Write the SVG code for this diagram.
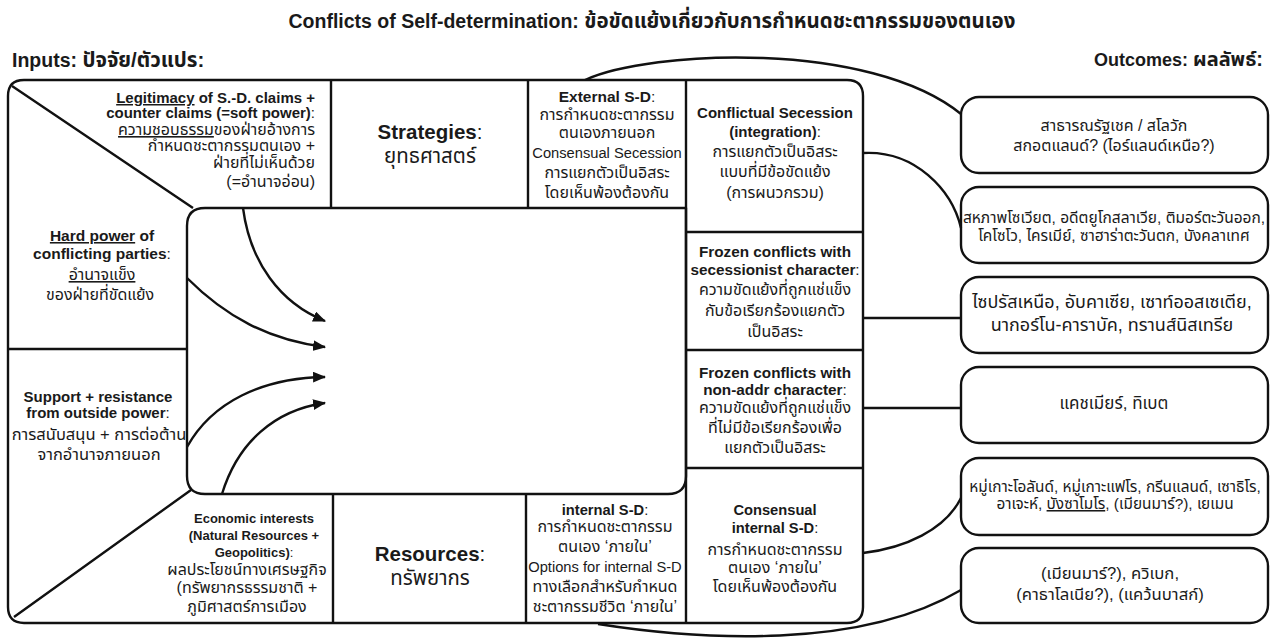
<svg xmlns="http://www.w3.org/2000/svg" width="1272" height="641" viewBox="0 0 1272 641">
<defs>
<style>
text { font-family: "Liberation Sans", "Noto Sans Thai", "Noto Sans Thai UI", Garuda, Loma, "DejaVu Sans", sans-serif; font-size: 16px; fill: #1a1a1a; }
.b { font-weight: bold; }
.c { text-anchor: middle; }
.e { text-anchor: end; }
.en { font-size: 15px; }
.sm { font-size: 13px; }
.big { font-size: 20.5px; }
.hd { font-weight: bold; }
.u { text-decoration: underline; }
.ln { fill: none; stroke: #111; stroke-width: 2.4; stroke-linejoin: round; }
.box { fill: #fff; stroke: #111; stroke-width: 2.4; }
</style>
<marker id="ah" viewBox="0 0 12 10" refX="11" refY="5" markerWidth="13" markerHeight="11" orient="auto" markerUnits="userSpaceOnUse">
<path d="M0,0 L12,5 L0,10 Z" fill="#111"/>
</marker>
</defs>
<rect width="1272" height="641" fill="#fff"/>

<g id="headers">
<text class="hd c" x="652" y="28"><tspan style="font-size:19.5px">Conflicts of Self-determination: </tspan><tspan style="font-size:20.5px">ข้อขัดแย้งเกี่ยวกับการกำหนดชะตากรรมของตนเอง</tspan></text>
<text class="hd" x="12" y="67"><tspan style="font-size:19.5px">Inputs: </tspan><tspan style="font-size:20.5px">ปัจจัย/ตัวแปร:</tspan></text>
<text class="hd e" x="1263" y="66"><tspan style="font-size:18px">Outcomes: </tspan><tspan style="font-size:20px">ผลลัพธ์:</tspan></text>
</g>

<g id="frame">
<path class="ln" d="M24,80 H847 Q863,80 863,96 V607 Q863,623 847,623 H24 Q8,623 8,607 V96 Q8,80 24,80 Z"/>
<path class="ln" d="M205,208 H686 V476 Q686,494 668,494 H205 Q187,494 187,476 V226 Q187,208 205,208 Z"/>
<path class="ln" d="M12,86 L193,208 M14,617 L191,490 M331,80 V208 M528,80 V208 M686,80 V623 M8,349 H187 M333,494 V623 M526,494 V623 M686,232 H863 M686,350 H863 M686,468 H863"/>
</g>

<g id="legitimacy">
<text class="e en" x="315" y="103"><tspan class="b"><tspan class="u">Legitimacy</tspan> of S.-D. claims +</tspan></text>
<text class="e en" x="315" y="118"><tspan class="b">counter claims (=soft power)</tspan>:</text>
<text class="e" x="315" y="135"><tspan class="u">ความชอบธรรม</tspan>ของฝ่ายอ้างการ</text>
<text class="e" x="315" y="151">กำหนดชะตากรรมตนเอง +</text>
<text class="e" x="315" y="168">ฝ่ายที่ไม่เห็นด้วย</text>
<text class="e" x="315" y="187">(=อำนาจอ่อน)</text>
</g>

<g id="strategies">
<text class="c big" x="430" y="139"><tspan class="b">Strategies</tspan>:</text>
<text class="c big" x="430" y="163">ยุทธศาสตร์</text>
</g>

<g id="external">
<text class="c" x="607" y="102" style="font-size:15.5px"><tspan class="b">External S-D</tspan>:</text>
<text class="c" x="607" y="120">การกำหนดชะตากรรม</text>
<text class="c" x="607" y="138">ตนเองภายนอก</text>
<text class="c" x="607" y="158" style="font-size:14.7px">Consensual Secession</text>
<text class="c" x="607" y="178">การแยกตัวเป็นอิสระ</text>
<text class="c" x="607" y="198">โดยเห็นพ้องต้องกัน</text>
</g>

<g id="conflictual">
<text class="c b en" x="775" y="118">Conflictual Secession</text>
<text class="c en" x="775" y="137"><tspan class="b">(integration)</tspan>:</text>
<text class="c" x="775" y="157">การแยกตัวเป็นอิสระ</text>
<text class="c" x="775" y="177">แบบที่มีข้อขัดแย้ง</text>
<text class="c" x="775" y="198">(การผนวกรวม)</text>
</g>

<g id="frozen-secessionist">
<text class="c b" x="775" y="257" style="font-size:15.3px">Frozen conflicts with</text>
<text class="c" x="775" y="275" style="font-size:15.3px"><tspan class="b">secessionist character</tspan>:</text>
<text class="c" x="775" y="295">ความขัดแย้งที่ถูกแช่แข็ง</text>
<text class="c" x="775" y="316">กับข้อเรียกร้องแยกตัว</text>
<text class="c" x="775" y="337">เป็นอิสระ</text>
</g>

<g id="frozen-nonaddr">
<text class="c b" x="775" y="378" style="font-size:15.3px">Frozen conflicts with</text>
<text class="c" x="775" y="395" style="font-size:15.3px"><tspan class="b">non-addr character</tspan>:</text>
<text class="c" x="775" y="413">ความขัดแย้งที่ถูกแช่แข็ง</text>
<text class="c" x="775" y="433">ที่ไม่มีข้อเรียกร้องเพื่อ</text>
<text class="c" x="775" y="453">แยกตัวเป็นอิสระ</text>
</g>

<g id="hardpower">
<text class="c" x="102" y="241" style="font-size:15.5px"><tspan class="b"><tspan class="u">Hard power</tspan> of</tspan></text>
<text class="c" x="102" y="259" style="font-size:15.5px"><tspan class="b">conflicting parties</tspan>:</text>
<text class="c u" x="102" y="280">อำนาจแข็ง</text>
<text class="c" x="100" y="300">ของฝ่ายที่ขัดแย้ง</text>
</g>

<g id="support">
<text class="c b en" x="98" y="402">Support + resistance</text>
<text class="c en" x="98" y="418"><tspan class="b">from outside power</tspan>:</text>
<text class="c" x="99" y="440" style="font-size:16.5px">การสนับสนุน + การต่อต้าน</text>
<text class="c" x="99" y="460" style="font-size:16.5px">จากอำนาจภายนอก</text>
</g>

<g id="economic">
<text class="c b sm" x="254" y="523">Economic interests</text>
<text class="c b sm" x="254" y="540">(Natural Resources +</text>
<text class="c sm" x="254" y="557"><tspan class="b">Geopolitics)</tspan>:</text>
<text class="c" x="247" y="575">ผลประโยชน์ทางเศรษฐกิจ</text>
<text class="c" x="247" y="593">(ทรัพยากรธรรมชาติ +</text>
<text class="c" x="247" y="612">ภูมิศาสตร์การเมือง</text>
</g>

<g id="resources">
<text class="c big" x="430" y="561"><tspan class="b">Resources</tspan>:</text>
<text class="c big" x="430" y="585">ทรัพยากร</text>
</g>

<g id="internal">
<text class="c" x="605" y="515" style="font-size:14.7px"><tspan class="b">internal S-D</tspan>:</text>
<text class="c" x="605" y="532">การกำหนดชะตากรรม</text>
<text class="c" x="605" y="552">ตนเอง ‘ภายใน’</text>
<text class="c" x="605" y="572" style="font-size:14.7px">Options for internal S-D</text>
<text class="c" x="605" y="592">ทางเลือกสำหรับกำหนด</text>
<text class="c" x="605" y="612">ชะตากรรมชีวิต ‘ภายใน’</text>
</g>

<g id="consensual-internal">
<text class="c b" x="775" y="515" style="font-size:14.7px">Consensual</text>
<text class="c" x="775" y="533" style="font-size:14.7px"><tspan class="b">internal S-D</tspan>:</text>
<text class="c" x="775" y="555">การกำหนดชะตากรรม</text>
<text class="c" x="775" y="573">ตนเอง ‘ภายใน’</text>
<text class="c" x="775" y="592">โดยเห็นพ้องต้องกัน</text>
</g>

<g id="outcome-1">
<rect class="box" x="961" y="97" width="307" height="76" rx="18"/>
<text class="c" x="1114" y="131">สาธารณรัฐเชค / สโลวัก</text>
<text class="c" x="1114" y="151">สกอตแลนด์? (ไอร์แลนด์เหนือ?)</text>
</g>
<g id="outcome-2">
<rect class="box" x="961" y="187" width="307" height="76" rx="18"/>
<text class="c" x="1114" y="223" style="font-size:15.5px">สหภาพโซเวียต, อดีตยูโกสลาเวีย, ติมอร์ตะวันออก,</text>
<text class="c" x="1114" y="241" style="font-size:15.5px">โคโซโว, ไครเมีย์, ซาฮาร่าตะวันตก, บังคลาเทศ</text>
</g>
<g id="outcome-3">
<rect class="box" x="961" y="277" width="307" height="76" rx="18"/>
<text class="c" x="1112" y="308" style="font-size:18px">ไซปรัสเหนือ, อับคาเซีย, เซาท์ออสเซเตีย,</text>
<text class="c" x="1112" y="331" style="font-size:18px">นากอร์โน-คาราบัค, ทรานส์นิสเทรีย</text>
</g>
<g id="outcome-4">
<rect class="box" x="961" y="367" width="307" height="76" rx="18"/>
<text class="c" x="1114" y="409" style="font-size:17px">แคชเมียร์, ทิเบต</text>
</g>
<g id="outcome-5">
<rect class="box" x="961" y="458" width="307" height="77" rx="18"/>
<text class="c" x="1115" y="492" style="font-size:15.4px">หมู่เกาะโอลันด์, หมู่เกาะแฟโร, กรีนแลนด์, เซาธิโร,</text>
<text class="c" x="1115" y="509" style="font-size:15.4px">อาเจะห์, <tspan class="u">บังซาโมโร</tspan>, (เมียนมาร์?), เยเมน</text>
</g>
<g id="outcome-6">
<rect class="box" x="961" y="548" width="307" height="75" rx="18"/>
<text class="c" x="1110" y="579" style="font-size:16.7px">(เมียนมาร์?), ควิเบก,</text>
<text class="c" x="1110" y="600" style="font-size:16.7px">(คาธาโลเนีย?), (แคว้นบาสก์)</text>
</g>

<g id="connectors">
<path class="ln" marker-end="url(#ah)" d="M243,208 C250,262 280,303 325,321"/>
<path class="ln" marker-end="url(#ah)" d="M187,278 C225,316 268,340 325,347"/>
<path class="ln" marker-end="url(#ah)" d="M187,447 C212,402 262,378 325,377"/>
<path class="ln" marker-end="url(#ah)" d="M222,494 C238,442 275,410 325,403"/>
<path class="ln" d="M585,80 C650,50 870,40 961,114"/>
<path class="ln" d="M863,153 C915,150 952,190 961,228"/>
<path class="ln" d="M863,318 H961"/>
<path class="ln" d="M863,408 H961"/>
<path class="ln" d="M863,553 C905,548 945,530 961,498"/>
<path class="ln" d="M598,624 C700,640 860,650 961,590"/>
</g>
</svg>
